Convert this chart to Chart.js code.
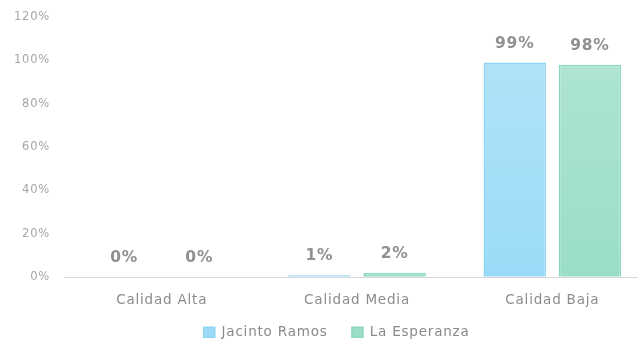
<!DOCTYPE html>
<html>
<head>
<meta charset="utf-8">
<script src="https://cdn.jsdelivr.net/npm/chart.js@4/dist/chart.umd.min.js"></script>
<style>
  html, body { margin: 0; padding: 0; background: #fff; overflow: hidden; }
  #wrap { width: 650px; height: 343px; margin-top: -4px; position: relative; }
</style>
</head>
<body>
<div id="wrap"><canvas id="myChart"></canvas></div>
<script>
var categorias = ['Calidad Alta', 'Calidad Media', 'Calidad Baja'];
var jacintoRamos = [0, 1, 99];
var laEsperanza = [0, 2, 98];
var tickLabels = ['0%', '20%', '40%', '60%', '80%', '100%', '120%'];

// degradado vertical para cada serie
function degradado(arriba, abajo) {
  return function(context) {
    var chart = context.chart;
    var area = chart.chartArea;
    if (!area) return abajo;
    var g = chart.ctx.createLinearGradient(0, area.top, 0, area.bottom);
    g.addColorStop(0, arriba);
    g.addColorStop(1, abajo);
    return g;
  };
}

// letra un poco más espaciada, como en la imagen original
var espaciado = {
  id: 'espaciado',
  beforeUpdate: function(chart) { chart.ctx.letterSpacing = '0.8px'; },
  beforeDraw: function(chart) { chart.ctx.letterSpacing = '0.8px'; }
};

// etiquetas de valor encima de cada barra
var etiquetas = {
  id: 'etiquetas',
  afterDatasetsDraw: function(chart) {
    var ctx = chart.ctx;
    ctx.save();
    ctx.font = 'bold 15.5px "DejaVu Sans"';
    ctx.letterSpacing = '0.8px';
    ctx.fillStyle = '#909090';
    ctx.textAlign = 'center';
    ctx.textBaseline = 'middle';
    chart.data.datasets.forEach(function(ds, i) {
      chart.getDatasetMeta(i).data.forEach(function(bar, j) {
        ctx.fillText(ds.data[j] + '%', bar.x, bar.y - 19);
      });
    });
    ctx.restore();
  }
};

var ctx = document.getElementById('myChart').getContext('2d');
var myChart = new Chart(ctx, {
  type: 'bar',
  data: {
    labels: categorias,
    datasets: [{
      label: 'Jacinto Ramos',
      data: jacintoRamos,
      backgroundColor: degradado('#b5e4f9', '#9bdbf7'),
      borderColor: '#8dd5f3',
      borderWidth: 1.5,
      categoryPercentage: 0.77,
      barPercentage: 0.83
    }, {
      label: 'La Esperanza',
      data: laEsperanza,
      backgroundColor: degradado('#b1e5d5', '#9bdec7'),
      borderColor: '#8cd8bc',
      borderWidth: 1.5,
      categoryPercentage: 0.77,
      barPercentage: 0.83
    }]
  },
  options: {
    responsive: true,
    maintainAspectRatio: false,
    animation: false,
    layout: { padding: { top: 0, left: 0, right: 0, bottom: -10 } },
    scales: {
      x: {
        grid: { display: false },
        border: { display: false },
        ticks: { color: '#8c8c8c', font: { family: 'DejaVu Sans', size: 13.5 }, padding: 7 },
        afterFit: function(scale) { scale.height += 6; }
      },
      y: {
        min: 0,
        max: 120,
        border: { display: false },
        grid: {
          drawTicks: false,
          color: function(c) { return c.tick.value === 0 ? '#d9d9d9' : 'transparent'; }
        },
        ticks: {
          stepSize: 20,
          color: '#a6a6a6',
          padding: 14,
          font: { family: 'DejaVu Sans', size: 11.5 },
          callback: function(v, i) { return tickLabels[i]; }
        }
      }
    },
    plugins: {
      legend: {
        position: 'bottom',
        fullSize: false,
        labels: {
          color: '#8a8a8a',
          font: { family: 'DejaVu Sans', size: 13.5 },
          boxWidth: 11,
          boxHeight: 10,
          padding: 4,
          generateLabels: function(chart) {
            var items = Chart.defaults.plugins.legend.labels.generateLabels(chart);
            // separación entre las dos entradas y ajuste del centrado
            items[0].text = items[0].text + '\u00a0\u00a0\u00a0\u00a0';
            items[1].text = items[1].text + '\u00a0\u00a0\u00a0\u00a0\u00a0\u00a0\u00a0\u00a0';
            return items;
          }
        }
      },
      tooltip: { enabled: false }
    }
  },
  plugins: [espaciado, etiquetas]
});
</script>
</body>
</html>
